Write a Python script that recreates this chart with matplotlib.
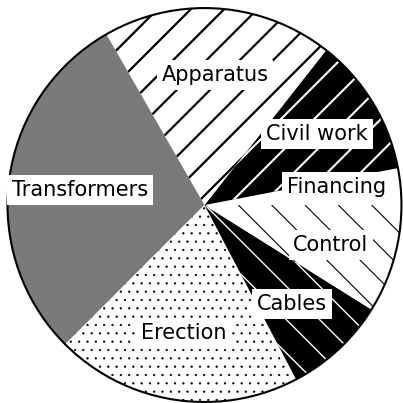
import matplotlib
matplotlib.use('Agg')
import matplotlib.pyplot as plt
from matplotlib.patches import Circle

# Datos del gráfico (porcentajes)
labels = ['Financing', 'Civil work', 'Apparatus', 'Transformers', 'Erection', 'Cables', 'Control']
values = [3.0, 11.4, 18.9, 29.2, 20.2, 8.4, 8.9]

# Estilo de cada sector: (relleno, color del rayado, rayado, grosor del rayado)
styles = {
    'Financing': ('white', 'black', None, 1.0),
    'Civil work': ('black', 'white', '/', 1.5),
    'Apparatus': ('white', 'black', '/', 1.6),
    'Transformers': ('#7a7a7a', '#7a7a7a', None, 1.0),
    'Erection': ('white', 'black', '..', 0.4),
    'Cables': ('black', 'white', '\\', 1.0),
    'Control': ('white', 'black', '\\', 0.8),
}

# Posición de las etiquetas (coordenadas del gráfico, radio = 1)
label_pos = {
    'Apparatus': (0.053, 0.66),
    'Civil work': (0.571, 0.36),
    'Financing': (0.668, 0.091),
    'Control': (0.642, -0.203),
    'Cables': (0.444, -0.503),
    'Erection': (-0.104, -0.650),
    'Transformers': (-0.632, 0.076),
}

plt.rcParams['hatch.linewidth'] = 1.6

fig = plt.figure(figsize=(4.03, 4.03), dpi=100)
ax = fig.add_axes([0, 0, 1, 1])

wedges, _ = ax.pie(values, startangle=0, counterclock=True, radius=1,
                   wedgeprops=dict(linewidth=0))
for w, lab in zip(wedges, labels):
    face, hcol, hatch, hlw = styles[lab]
    w.set_facecolor(face)
    w.set_edgecolor(hcol)
    w.set_linewidth(0)
    if hatch:
        w.set_hatch(hatch)
        if hasattr(w, 'set_hatch_linewidth'):
            w.set_hatch_linewidth(hlw)

ax.add_patch(Circle((0, 0), 1, fill=False, edgecolor='black', linewidth=1.5))

for lab in labels:
    x, y = label_pos[lab]
    ax.text(x, y, lab, ha='center', va='center', fontsize=15,
            family='DejaVu Sans', color='black',
            bbox=dict(facecolor='white', edgecolor='none', pad=3.5))

ax.set_xlim(-1.038, 1.0076)
ax.set_ylim(-1.005, 1.041)
ax.set_aspect('equal')
ax.axis('off')

fig.savefig('out.png', dpi=100, facecolor='white')
